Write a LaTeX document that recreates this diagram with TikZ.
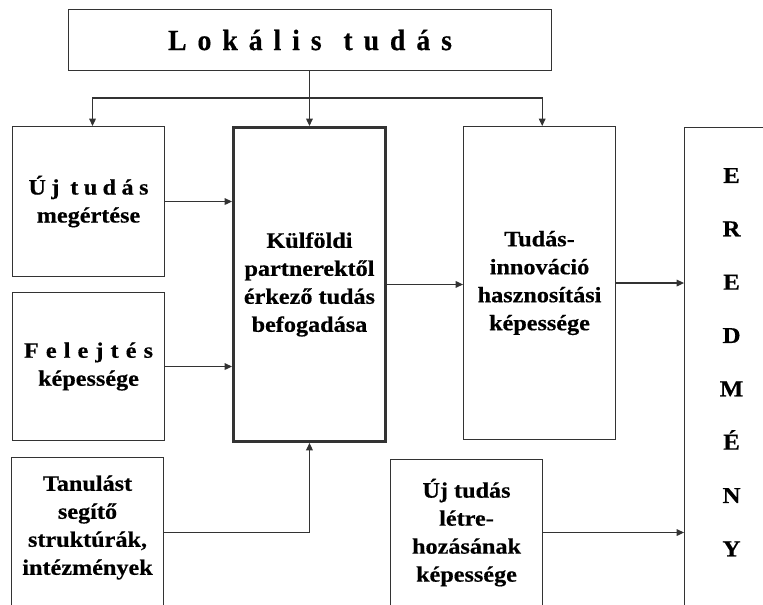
\documentclass[tikz,border=0pt]{standalone}
\usepackage{fontspec}
\setmainfont{Liberation Serif}
\newfontfamily\widefont[FakeStretch=1.1,FakeBold=0.5]{Liberation Serif}
\newfontfamily\titlefont[FakeStretch=0.95,FakeBold=0.5]{Liberation Serif}
\usetikzlibrary{arrows.meta,positioning}
\definecolor{linegrey}{HTML}{333333}

\begin{document}
\begin{tikzpicture}[x=0.75pt,y=-0.75pt,
every node/.style={font=\widefont\bfseries\fontsize{16.5}{21}\selectfont},
box/.style={draw=linegrey,line width=0.8pt,align=center,inner sep=2pt,
anchor=north west,minimum width=114pt},
mainbox/.style={box,line width=2.2pt},
arr/.style={-{Triangle[length=5.5pt,width=5pt]},line width=0.8pt,draw=linegrey}
]
\useasboundingbox (0,0) rectangle (763,605);
\clip (0,0) rectangle (763,605);
% boxes
\node[box,minimum width=362.25pt,minimum height=45.75pt,
font=\titlefont\bfseries\fontsize{22}{26}\selectfont] (lokalis) at (68,9)
{\makebox[213pt][s]{L\hfil o\hfil k\hfil á\hfil l\hfil i\hfil s\hfil\hfil t\hfil u\hfil d\hfil á\hfil s}};
\node[box,minimum height=112.5pt] (megertes) at (12,126)
{\makebox[90pt][s]{Ú\hfil j\hfil\hfil t\hfil u\hfil d\hfil á\hfil s}\\ megértése};
\node[box,minimum height=111pt] (felejtes) at (12,292)
{\makebox[96.75pt][s]{F\hfil e\hfil l\hfil e\hfil j\hfil t\hfil é\hfil s}\\ képessége};
\node[box,minimum height=120pt,text depth=18.6pt] (tanulas) at (11,457)
{Tanulást\\ segítő\\ struktúrák,\\ intézmények};
\node[mainbox,minimum height=235.5pt] (befogadas) at (232,126)
{Külföldi\\ partnerektől\\ érkező tudás\\ befogadása};
\node[box,minimum height=234.75pt] (hasznositas) at (463,126)
{Tudás-\\ innováció\\ hasznosítási\\ képessége};
\node[box,minimum height=120pt,text depth=14pt] (letrehozas) at (390,459)
{Új tudás\\ létre-\\ hozásának\\ képessége};
\node[box,minimum width=70.5pt,minimum height=375pt,text depth=23pt,
font=\widefont\bfseries\fontsize{17}{40}\selectfont] (eredmeny) at (684,127)
{E\\ R\\ E\\ D\\ M\\ É\\ N\\ Y};
% connectors
\coordinate (branch) at (lokalis.south |- 0,98);
\draw[line width=0.8pt,draw=linegrey] (lokalis.south -| befogadas.north) -- (branch -| befogadas.north);
\draw[arr] (branch -| befogadas.north) -- (befogadas.north);
\draw[arr] (branch -| befogadas.north) -| ([xshift=3pt]megertes.north);
\draw[arr] (branch -| befogadas.north) -| ([xshift=2pt]hasznositas.north);
\draw[arr] (megertes.east) -- (megertes.east -| befogadas.west);
\draw[arr] (felejtes.east) -- (felejtes.east -| befogadas.west);
\draw[arr] ([yshift=3.75pt]tanulas.east) -| (befogadas.south);
\draw[arr] (befogadas.east) -- (befogadas.east -| hasznositas.west);
\draw[arr] (hasznositas.east) -- (hasznositas.east -| eredmeny.west);
\draw[arr] ([yshift=5.25pt]letrehozas.east) -- ([yshift=5.25pt]letrehozas.east -| eredmeny.west);
\end{tikzpicture}
\end{document}
